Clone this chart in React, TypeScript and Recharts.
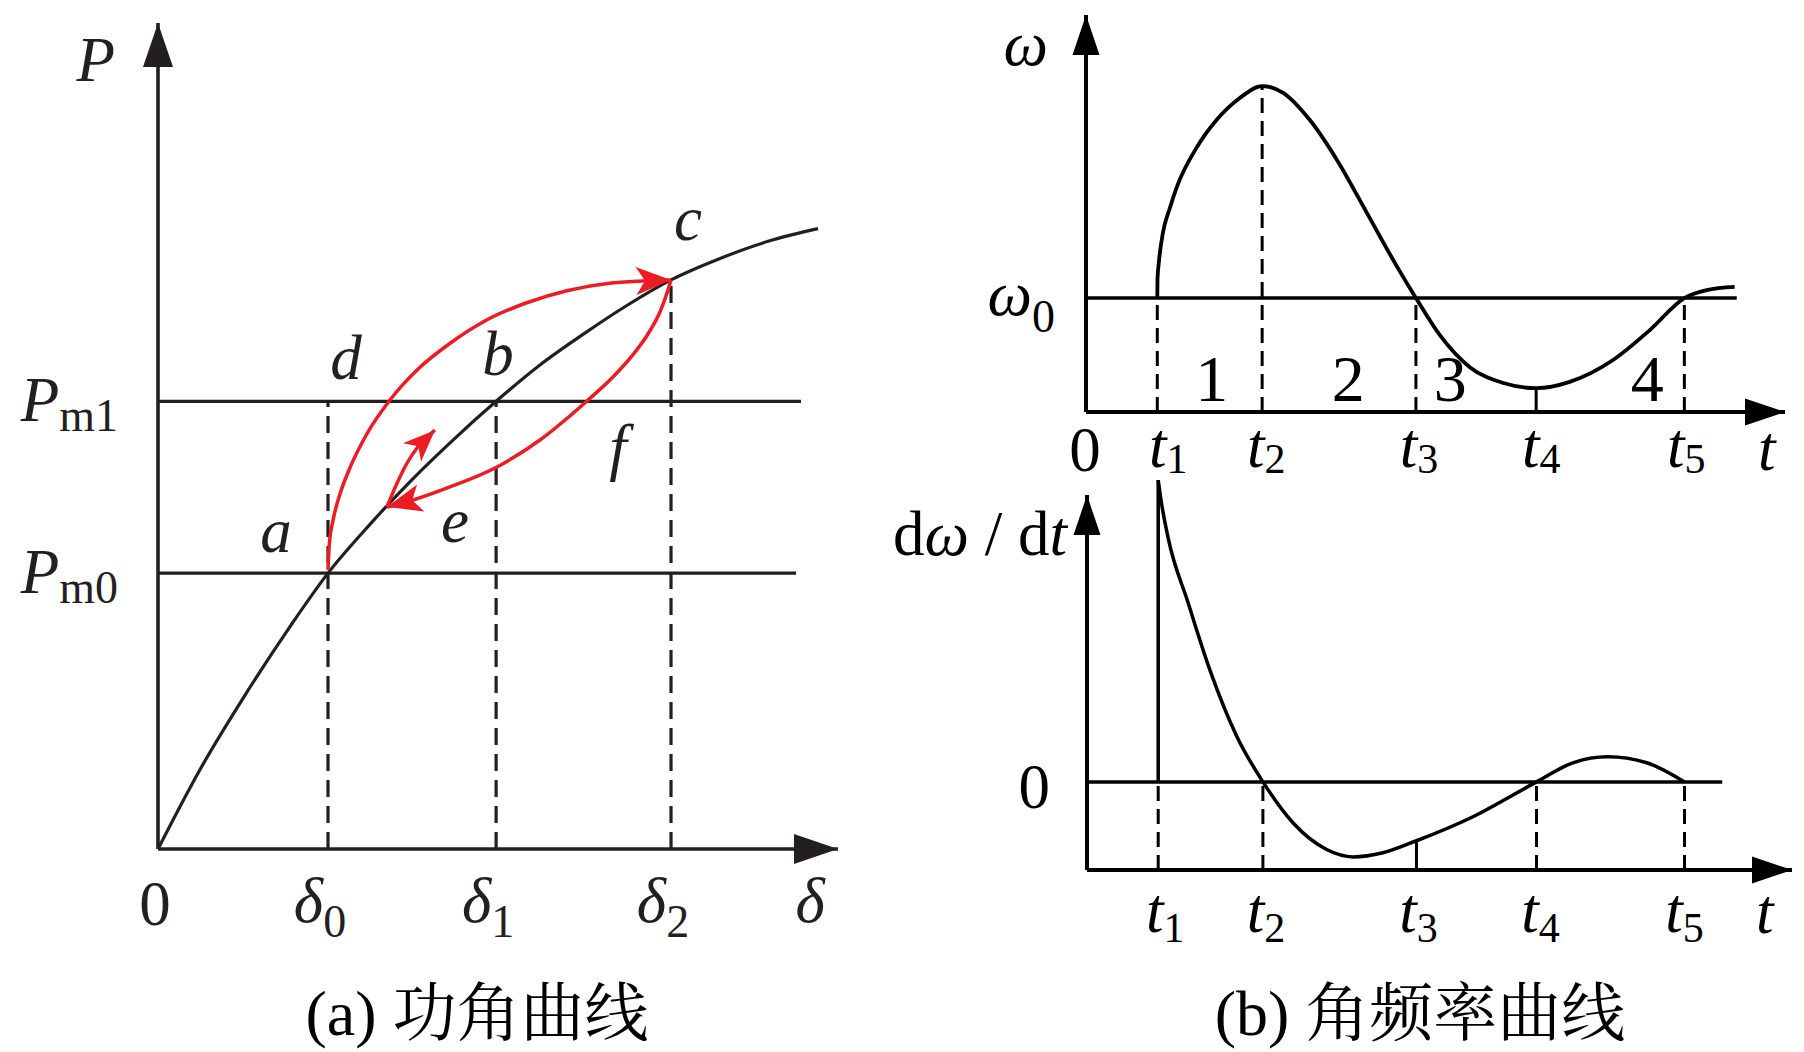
import React from "react";
import { ComposedChart, Line, Scatter, XAxis, YAxis, ReferenceLine } from "recharts";

const INK = "#231f20";
const BLACK = "#000000";
const RED = "#ec1c24";
const SERIF = '"Liberation Serif", "Times New Roman", serif';
const CAPTION_FONT = '"Liberation Serif", "Noto Serif CJK SC", "Noto Sans CJK SC", serif';
const FONT = 63;

// ---------- (a) power-angle curve ----------
const D0 = 45;
const D1 = 89.5;
const D2 = 135.8;
const PM0 = 33.4;
const PM1 = 54.2;
const PC = 68.9;
const DELTA_MAX = 180;
const P_MAX = 100;

const powerCurve = [
  { d: 0, p: 0 },
  { d: 11.1, p: 9.6 },
  { d: 23, p: 18.6 },
  { d: 34.9, p: 26.9 },
  { d: D0, p: PM0 },
  { d: 56.1, p: 39.3 },
  { d: 67.2, p: 44.7 },
  { d: 78.3, p: 49.6 },
  { d: D1, p: PM1 },
  { d: 101.1, p: 58.6 },
  { d: 112.8, p: 62.4 },
  { d: 124.1, p: 65.8 },
  { d: D2, p: PC },
  { d: 148.8, p: 71.5 },
  { d: 161.7, p: 73.6 },
  { d: 174.7, p: 75.1 },
];

// a -> c (accelerating swing)
const accelPath = [
  { d: 45.0, p: 33.8 },
  { d: 45.34, p: 36.84 },
  { d: 46.37, p: 39.87 },
  { d: 48.09, p: 42.86 },
  { d: 50.48, p: 45.79 },
  { d: 55.27, p: 50.24 },
  { d: 61.41, p: 54.36 },
  { d: 68.85, p: 58.11 },
  { d: 77.42, p: 61.26 },
  { d: 87.0, p: 64.04 },
  { d: 97.41, p: 66.1 },
  { d: 108.5, p: 67.62 },
  { d: 120.01, p: 68.52 },
  { d: 129.46, p: 68.8 },
  { d: D2, p: PC },
];

// c -> e (swing back)
const decelPath = [
  { d: D2, p: PC },
  { d: 135.0, p: 67.68 },
  { d: 132.87, p: 65.01 },
  { d: 129.7, p: 62.35 },
  { d: 125.46, p: 59.69 },
  { d: 120.43, p: 57.14 },
  { d: 113.55, p: 54.24 },
  { d: 101.11, p: 49.52 },
  { d: 89.73, p: 46.25 },
  { d: 77.29, p: 43.83 },
  { d: 67.5, p: 42.25 },
  { d: 60.61, p: 41.4 },
];

// e -> up again
const reboundPath = [
  { d: 60.61, p: 41.4 },
  { d: 63.3, p: 44.3 },
  { d: 65.9, p: 46.7 },
  { d: 68.8, p: 48.7 },
  { d: 73.3, p: 50.7 },
];

const deltaTicks = [0, D0, D1, D2, 172.6];
const deltaTickLabels = [
  [["0"]],
  [["δ", "i"], ["0", "s"]],
  [["δ", "i"], ["1", "s"]],
  [["δ", "i"], ["2", "s"]],
  [["δ", "i"]],
];
const pTicks = [PM0, PM1, 93];
const pTickLabels = [
  [["P", "i"], ["m0", "s"]],
  [["P", "i"], ["m1", "s"]],
  [["P", "i"]],
];

const pointLabels = [
  { d: D0, p: PM0, text: "a" },
  { d: D1, p: PM1, text: "b" },
  { d: D2, p: PC, text: "c" },
  { d: D0, p: PM1, text: "d" },
  { d: 60.61, p: 41.4, text: "e" },
  { d: D2, p: PM1, text: "f" },
];

// ---------- (b) angular frequency curves ----------
const T1 = 1.02;
const T2 = 2.52;
const T3 = 4.72;
const T4 = 6.44;
const T5 = 8.56;
const W0 = 2.87;
const W_PEAK = 8.21;
const W_MIN = 0.6;

const omegaCurve = [
  { t: T1, w: W0 },
  { t: 1.023, w: 3.35 },
  { t: 1.044, w: 3.8 },
  { t: 1.1, w: 4.51 },
  { t: 1.2, w: 5.14 },
  { t: 1.3, w: 5.67 },
  { t: 1.59, w: 6.68 },
  { t: 1.87, w: 7.36 },
  { t: 2.2, w: 7.91 },
  { t: T2, w: W_PEAK },
  { t: 2.82, w: 8.04 },
  { t: 3.2, w: 7.36 },
  { t: 3.59, w: 6.35 },
  { t: 4.02, w: 5.01 },
  { t: 4.46, w: 3.63 },
  { t: T3, w: W0 },
  { t: 5.06, w: 1.94 },
  { t: 5.49, w: 1.13 },
  { t: 5.97, w: 0.73 },
  { t: T4, w: W_MIN },
  { t: 6.92, w: 0.76 },
  { t: 7.54, w: 1.31 },
  { t: 8.07, w: 2.07 },
  { t: T5, w: W0 },
  { t: 8.88, w: 3.07 },
  { t: 9.28, w: 3.15 },
];

const tTicksTop = [0, T1, T2, T3, T4, T5, 9.74];
const tTicksBottom = [T1, T2, T3, T4, T5, 9.71];
const tLabel = (n: string) => [["t", "i"], [n, "s"]];
const tTickLabelsTop = [[["0"]], tLabel("1"), tLabel("2"), tLabel("3"), tLabel("4"), tLabel("5"), [["t", "i"]]];
const tTickLabelsBottom = [tLabel("1"), tLabel("2"), tLabel("3"), tLabel("4"), tLabel("5"), [["t", "i"]]];
const wTicks = [W0, 8.74];
const wTickLabels = [[["ω", "i"], ["0", "s"]], [["ω", "i"]]];

const regionLabels = [
  { t: 1.8, w: 0.28, text: "1" },
  { t: 3.75, w: 0.28, text: "2" },
  { t: 5.21, w: 0.28, text: "3" },
  { t: 8.03, w: 0.28, text: "4" },
];

const DW_MIN = -2.35;
const DW_TOP = 8.2;
const DW_AXIS_TOP = 7.65;
const DW_START = 8.05;
const DW_AT_T3 = -1.57;

const dwCurve = [
  { t: T1, v: DW_START },
  { t: 1.06, v: 7.52 },
  { t: 1.16, v: 6.53 },
  { t: 1.45, v: 4.77 },
  { t: 1.76, v: 2.99 },
  { t: 2.15, v: 1.2 },
  { t: T2, v: 0 },
  { t: 2.95, v: -1.09 },
  { t: 3.44, v: -1.81 },
  { t: 3.81, v: -2.0 },
  { t: 4.24, v: -1.89 },
  { t: T3, v: DW_AT_T3 },
  { t: 5.53, v: -0.93 },
  { t: T4, v: 0 },
  { t: 6.96, v: 0.51 },
  { t: 7.46, v: 0.67 },
  { t: 8.02, v: 0.51 },
  { t: T5, v: 0 },
];
const dwTicks = [0, 6.05];
const dwTickLabels = [[["0"]], [["d"], ["ω", "i"], [" / d"], ["t", "i"]]];

// ---------- helpers ----------
function RichText({ x, y, parts, anchor = "middle", size = FONT, subSize = 44, subShift = 12, fill = INK }: any) {
  let shifted = false;
  return (
    <text x={x} y={y} textAnchor={anchor} fontFamily={SERIF} fontSize={size} fill={fill} style={{ whiteSpace: "pre" }}>
      {parts.map(([s, kind]: any, i: number) => {
        let dy = 0;
        if (kind === "s" && !shifted) {
          dy = subShift;
          shifted = true;
        } else if (kind !== "s" && shifted) {
          dy = -subShift;
          shifted = false;
        }
        return (
          <tspan key={i} dy={dy || undefined} fontStyle={kind === "i" ? "italic" : undefined} fontSize={kind === "s" ? subSize : undefined}>
            {s}
          </tspan>
        );
      })}
    </text>
  );
}

function tickRenderer(values: number[], labels: any[], opt: any) {
  return (props: any) => {
    const v = props.payload?.value;
    const i = values.findIndex((t) => Math.abs(t - v) < 1e-9);
    if (i < 0) return <g />;
    return (
      <RichText
        x={props.x + opt.dx[i]}
        y={props.y + opt.dy[i]}
        parts={labels[i]}
        anchor={opt.anchor}
        subSize={opt.subSize}
        subShift={opt.subShift}
        fill={opt.fill}
      />
    );
  };
}

// draws an arrowhead at the last point of a line, pointing along the last segment
function arrowDot(total: number, len: number, half: number, notch: number, color: string) {
  const seen: number[][] = [];
  return (props: any) => {
    const { cx, cy, index } = props;
    seen[index] = [cx, cy];
    if (index !== total - 1) return <g key={`dot-${index}`} />;
    const prev = seen[index - 1] || [cx - 1, cy];
    const a = Math.atan2(cy - prev[1], cx - prev[0]);
    const c = Math.cos(a);
    const s = Math.sin(a);
    const pt = (u: number, v: number) => `${cx + u * c - v * s},${cy + u * s + v * c}`;
    return (
      <polygon
        key={`dot-${index}`}
        points={`${pt(0, 0)} ${pt(-len, -half)} ${pt(-len + notch, 0)} ${pt(-len, half)}`}
        fill={color}
      />
    );
  };
}

const textShape = (offsets: Record<string, number[]>, size: number, fill: string, italic: boolean) => (props: any) => {
  const { cx, cy, payload } = props;
  const off = offsets[payload.text] || [0, 0];
  return (
    <text
      x={cx + off[0]}
      y={cy + off[1]}
      textAnchor="middle"
      fontFamily={SERIF}
      fontSize={size}
      fontStyle={italic ? "italic" : "normal"}
      fill={fill}
    >
      {payload.text}
    </text>
  );
};

const POINT_LABEL_OFFSET: Record<string, number[]> = {
  a: [-52, -21],
  b: [2, -26],
  c: [17, -40],
  d: [18, -22],
  e: [68, 35],
  f: [-53, 67],
};

const hidden = { axisLine: false, tickLine: false, tickSize: 0, tickMargin: 0, interval: 0 as const };

function PowerAngle() {
  return (
    <ComposedChart width={900} height={1052} margin={{ top: 23, right: 62, bottom: 202, left: 157 }}>
      <XAxis
        type="number"
        dataKey="d"
        domain={[0, DELTA_MAX]}
        ticks={deltaTicks}
        height={1}
        {...hidden}
        tick={tickRenderer(deltaTicks, deltaTickLabels, {
          dx: [-3, -8, -8, -8, 0],
          dy: [76, 73, 73, 73, 73],
          anchor: "middle",
          subSize: 46,
          subShift: 15,
          fill: INK,
        })}
      />
      <YAxis
        type="number"
        domain={[0, P_MAX]}
        ticks={pTicks}
        width={1}
        {...hidden}
        tick={tickRenderer(pTicks, pTickLabels, {
          dx: [-40, -40, -43],
          dy: [20, 20, 0],
          anchor: "end",
          subSize: 46,
          subShift: 10,
          fill: INK,
        })}
      />
      <ReferenceLine segment={[{ x: 0, y: PM1 }, { x: 170.2, y: PM1 }]} stroke={INK} strokeWidth={3.2} />
      <ReferenceLine segment={[{ x: 0, y: PM0 }, { x: 168.9, y: PM0 }]} stroke={INK} strokeWidth={3.2} />
      <ReferenceLine segment={[{ x: D0, y: 0 }, { x: D0, y: PM1 }]} stroke={INK} strokeWidth={3.2} strokeDasharray="17 9" />
      <ReferenceLine segment={[{ x: D1, y: 0 }, { x: D1, y: PM1 }]} stroke={INK} strokeWidth={3.2} strokeDasharray="17 9" />
      <ReferenceLine segment={[{ x: D2, y: 0 }, { x: D2, y: PC }]} stroke={INK} strokeWidth={3.2} strokeDasharray="17 9" />
      <Line
        data={[{ d: 0, p: 0 }, { d: DELTA_MAX, p: 0 }]}
        dataKey="p"
        type="linear"
        stroke={INK}
        strokeWidth={3.6}
        dot={arrowDot(2, 44, 15, 0, INK)}
        activeDot={false}
        isAnimationActive={false}
      />
      <Line
        data={[{ d: 0, p: 0 }, { d: 0.0001, p: P_MAX }]}
        dataKey="p"
        type="linear"
        stroke={INK}
        strokeWidth={3.6}
        dot={arrowDot(2, 44, 15, 0, INK)}
        activeDot={false}
        isAnimationActive={false}
      />
      <Line data={powerCurve} dataKey="p" type="monotone" stroke={INK} strokeWidth={3.2} dot={false} activeDot={false} isAnimationActive={false} />
      <Line
        data={accelPath}
        dataKey="p"
        type="monotone"
        stroke={RED}
        strokeWidth={3.5}
        dot={arrowDot(accelPath.length, 35, 14, 9, RED)}
        activeDot={false}
        isAnimationActive={false}
      />
      <Line
        data={decelPath}
        dataKey="p"
        type="monotone"
        stroke={RED}
        strokeWidth={3.5}
        dot={arrowDot(decelPath.length, 35, 14, 9, RED)}
        activeDot={false}
        isAnimationActive={false}
      />
      <Line
        data={reboundPath}
        dataKey="p"
        type="monotone"
        stroke={RED}
        strokeWidth={3.5}
        dot={arrowDot(reboundPath.length, 32, 13, 9, RED)}
        activeDot={false}
        isAnimationActive={false}
      />
      <Scatter data={pointLabels} dataKey="p" shape={textShape(POINT_LABEL_OFFSET, FONT, INK, true)} isAnimationActive={false} />
    </ComposedChart>
  );
}

function OmegaChart() {
  return (
    <ComposedChart width={904} height={490} margin={{ top: 15, right: 19, bottom: 77, left: 185 }}>
      <XAxis
        type="number"
        dataKey="t"
        domain={[0, 10]}
        ticks={tTicksTop}
        height={1}
        {...hidden}
        tick={tickRenderer(tTicksTop, tTickLabelsTop, {
          dx: [-1, 11, 4, 3, 5, 2, 0],
          dy: [59, 55, 55, 55, 55, 55, 58],
          anchor: "middle",
          subSize: 42,
          subShift: 6,
          fill: BLACK,
        })}
      />
      <YAxis
        type="number"
        domain={[0, 10]}
        ticks={wTicks}
        width={1}
        {...hidden}
        tick={tickRenderer(wTicks, wTickLabels, {
          dx: [-31, -38],
          dy: [17, 0],
          anchor: "end",
          subSize: 46,
          subShift: 17,
          fill: BLACK,
        })}
      />
      <ReferenceLine segment={[{ x: 0, y: W0 }, { x: 9.31, y: W0 }]} stroke={BLACK} strokeWidth={3.5} />
      <ReferenceLine segment={[{ x: T1, y: 0 }, { x: T1, y: W0 }]} stroke={BLACK} strokeWidth={3} strokeDasharray="15 8" />
      <ReferenceLine segment={[{ x: T2, y: 0 }, { x: T2, y: W_PEAK }]} stroke={BLACK} strokeWidth={3} strokeDasharray="15 8" />
      <ReferenceLine segment={[{ x: T3, y: 0 }, { x: T3, y: W0 }]} stroke={BLACK} strokeWidth={3} strokeDasharray="15 8" />
      <ReferenceLine segment={[{ x: T4, y: 0 }, { x: T4, y: W_MIN }]} stroke={BLACK} strokeWidth={3} />
      <ReferenceLine segment={[{ x: T5, y: 0 }, { x: T5, y: W0 }]} stroke={BLACK} strokeWidth={3} strokeDasharray="15 8" />
      <Line
        data={[{ t: 0, w: 0 }, { t: 10, w: 0 }]}
        dataKey="w"
        type="linear"
        stroke={BLACK}
        strokeWidth={4}
        dot={arrowDot(2, 40, 13.5, 0, BLACK)}
        activeDot={false}
        isAnimationActive={false}
      />
      <Line
        data={[{ t: 0, w: 0 }, { t: 0.0001, w: 10 }]}
        dataKey="w"
        type="linear"
        stroke={BLACK}
        strokeWidth={4}
        dot={arrowDot(2, 40, 13.5, 0, BLACK)}
        activeDot={false}
        isAnimationActive={false}
      />
      <Line data={omegaCurve} dataKey="w" type="monotone" stroke={BLACK} strokeWidth={3.8} dot={false} activeDot={false} isAnimationActive={false} />
      <Scatter data={regionLabels} dataKey="w" shape={textShape({}, 66, BLACK, false)} isAnimationActive={false} />
    </ComposedChart>
  );
}

function RateChart() {
  return (
    <ComposedChart width={944} height={582} margin={{ top: 4.5, right: 12, bottom: 181, left: 226 }}>
      <XAxis
        type="number"
        dataKey="t"
        domain={[0, 10.1]}
        ticks={tTicksBottom}
        height={1}
        {...hidden}
        tick={tickRenderer(tTicksBottom, tTickLabelsBottom, {
          dx: [7, 3, 2, 4, 0, 0],
          dy: [62, 62, 62, 62, 62, 63],
          anchor: "middle",
          subSize: 42,
          subShift: 10,
          fill: BLACK,
        })}
      />
      <YAxis
        type="number"
        domain={[DW_MIN, DW_TOP]}
        ticks={dwTicks}
        width={1}
        {...hidden}
        tick={tickRenderer(dwTicks, dwTickLabels, {
          dx: [-37, -20],
          dy: [26, 0],
          anchor: "end",
          subSize: 46,
          subShift: 10,
          fill: BLACK,
        })}
      />
      <ReferenceLine segment={[{ x: 0, y: 0 }, { x: 9.1, y: 0 }]} stroke={BLACK} strokeWidth={3.5} />
      <ReferenceLine segment={[{ x: T1, y: 0 }, { x: T1, y: DW_START }]} stroke={BLACK} strokeWidth={3.5} />
      <ReferenceLine segment={[{ x: T1, y: DW_MIN }, { x: T1, y: 0 }]} stroke={BLACK} strokeWidth={3} strokeDasharray="15 8" />
      <ReferenceLine segment={[{ x: T2, y: DW_MIN }, { x: T2, y: 0 }]} stroke={BLACK} strokeWidth={3} strokeDasharray="15 8" />
      <ReferenceLine segment={[{ x: T3, y: DW_MIN }, { x: T3, y: DW_AT_T3 }]} stroke={BLACK} strokeWidth={3} />
      <ReferenceLine segment={[{ x: T4, y: DW_MIN }, { x: T4, y: 0 }]} stroke={BLACK} strokeWidth={3} strokeDasharray="15 8" />
      <ReferenceLine segment={[{ x: T5, y: DW_MIN }, { x: T5, y: 0 }]} stroke={BLACK} strokeWidth={3} strokeDasharray="15 8" />
      <Line
        data={[{ t: 0, v: DW_MIN }, { t: 10.1, v: DW_MIN }]}
        dataKey="v"
        type="linear"
        stroke={BLACK}
        strokeWidth={4}
        dot={arrowDot(2, 40, 13.5, 0, BLACK)}
        activeDot={false}
        isAnimationActive={false}
      />
      <Line
        data={[{ t: 0, v: DW_MIN }, { t: 0.0001, v: DW_AXIS_TOP }]}
        dataKey="v"
        type="linear"
        stroke={BLACK}
        strokeWidth={4}
        dot={arrowDot(2, 40, 13.5, 0, BLACK)}
        activeDot={false}
        isAnimationActive={false}
      />
      <Line data={dwCurve} dataKey="v" type="monotone" stroke={BLACK} strokeWidth={3.5} dot={false} activeDot={false} isAnimationActive={false} />
    </ComposedChart>
  );
}

export default function App() {
  return (
    <div style={{ position: "absolute", left: 0, top: 0, width: 1804, height: 1052, background: "#fff", overflow: "hidden" }}>
      <div style={{ position: "absolute", left: 0, top: 0 }}>
        <PowerAngle />
      </div>
      <div style={{ position: "absolute", left: 900, top: 0 }}>
        <OmegaChart />
      </div>
      <div style={{ position: "absolute", left: 860, top: 470 }}>
        <RateChart />
      </div>
      <svg width={1804} height={1052} style={{ position: "absolute", left: 0, top: 0, pointerEvents: "none" }}>
        <text x={477} y={1035} textAnchor="middle" fontFamily={CAPTION_FONT} fontSize={64} fill={BLACK}>
          (a) 功角曲线
        </text>
        <text x={1420} y={1035} textAnchor="middle" fontFamily={CAPTION_FONT} fontSize={64} fill={BLACK}>
          (b) 角频率曲线
        </text>
      </svg>
    </div>
  );
}
